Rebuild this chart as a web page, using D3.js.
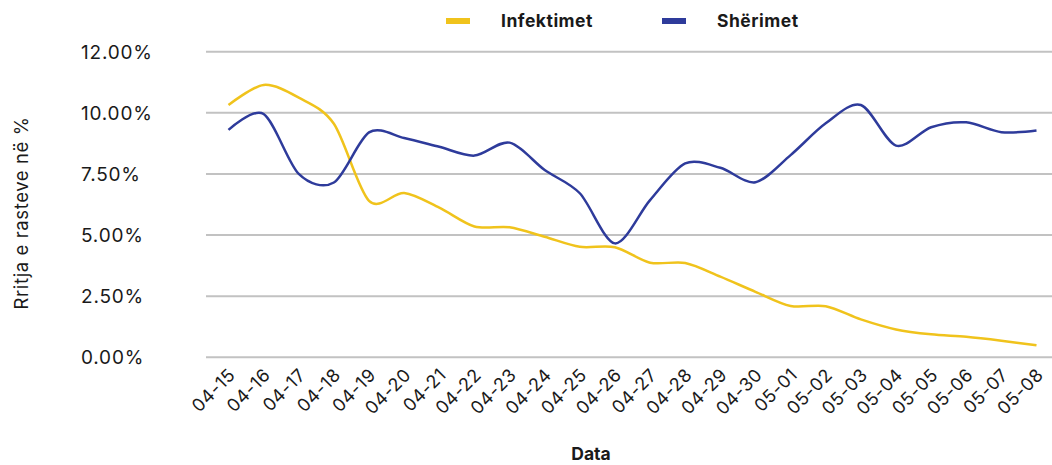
<!DOCTYPE html>
<html>
<head>
<meta charset="utf-8">
<script src="https://cdn.jsdelivr.net/npm/d3@7"></script>
<style>
  body { margin: 0; background: #fff; }
  svg text { font-family: Inter, "DejaVu Sans", sans-serif; fill: #1a1a1a; }
</style>
</head>
<body>
<svg id="chart" width="1052" height="465"></svg>
<script>
// Data
const dates = ["04-15","04-16","04-17","04-18","04-19","04-20","04-21","04-22","04-23","04-24",
  "04-25","04-26","04-27","04-28","04-29","04-30","05-01","05-02","05-03","05-04","05-05","05-06","05-07","05-08"];
const infektimet = [10.32, 11.14, 10.62, 9.55, 6.4, 6.72, 6.12, 5.35, 5.32, 4.93,
  4.52, 4.5, 3.87, 3.86, 3.3, 2.68, 2.1, 2.09, 1.55, 1.14, 0.94, 0.84, 0.68, 0.49];
const sherimet = [9.3, 9.95, 7.5, 7.15, 9.2, 8.97, 8.61, 8.25, 8.78, 7.66,
  6.71, 4.66, 6.43, 7.93, 7.75, 7.16, 8.27, 9.57, 10.32, 8.66, 9.41, 9.61, 9.21, 9.28];
const yTicks = [0, 2.5, 5, 7.5, 10, 12.5];
const yTickLabels = ["0.00%", "2.50%", "5.00%", "7.50%", "10.00%", "12.00%"];
const seriesNames = ["Infektimet", "Shërimet"];
const colors = ["#F0C31C", "#2E3B9B"];

const svg = d3.select("#chart");

// Scales
const x = d3.scalePoint().domain(dates).range([228.5, 1036.5]);
const y = d3.scaleLinear().domain([0, 12.5]).range([357.3, 51.7]);

// Gridlines
svg.append("g")
  .selectAll("line")
  .data(yTicks)
  .join("line")
  .attr("x1", 206)
  .attr("x2", 1052)
  .attr("y1", d => y(d))
  .attr("y2", d => y(d))
  .attr("stroke", "#c2c2c2")
  .attr("stroke-width", 2);

// Y tick labels (left aligned)
svg.append("g")
  .selectAll("text")
  .data(yTicks)
  .join("text")
  .attr("x", 81)
  .attr("y", d => y(d))
  .attr("dy", "0.36em")
  .style("font-size", "19px")
  .style("letter-spacing", "0.8px")
  .text((d, i) => yTickLabels[i]);

// X tick labels, rotated
svg.append("g")
  .selectAll("text")
  .data(dates)
  .join("text")
  .attr("text-anchor", "end")
  .attr("transform", d => `translate(${x(d) + 8},${376}) rotate(-45)`)
  .style("font-size", "18px")
  .style("letter-spacing", "0.6px")
  .text(d => d);

// Axis titles
svg.append("text")
  .attr("transform", "translate(28,213) rotate(-90)")
  .attr("text-anchor", "middle")
  .style("font-size", "18.5px")
  .style("letter-spacing", "0.6px")
  .text("Rritja e rasteve në %");

svg.append("text")
  .attr("x", 591)
  .attr("y", 460)
  .attr("text-anchor", "middle")
  .style("font-size", "17.5px")
  .style("font-weight", "bold")
  .text("Data");

// Lines
const line = d3.line()
  .x((d, i) => x(dates[i]))
  .y(d => y(d))
  .curve(d3.curveCardinal.tension(0.1));

[infektimet, sherimet].forEach((values, k) => {
  svg.append("path")
    .datum(values)
    .attr("fill", "none")
    .attr("stroke", colors[k])
    .attr("stroke-width", 2.5)
    .attr("d", line);
});

// Legend
const legendX = [446, 662];
const legend = svg.append("g")
  .selectAll("g")
  .data(seriesNames)
  .join("g")
  .attr("transform", (d, i) => `translate(${legendX[i]},21)`);

legend.append("rect")
  .attr("x", 0)
  .attr("y", -3)
  .attr("width", 24)
  .attr("height", 6)
  .attr("fill", (d, i) => colors[i]);

legend.append("text")
  .attr("x", 55)
  .attr("dy", "0.36em")
  .style("font-size", "17.5px")
  .style("font-weight", "bold")
  .style("letter-spacing", "0.5px")
  .text(d => d);
</script>
</body>
</html>
